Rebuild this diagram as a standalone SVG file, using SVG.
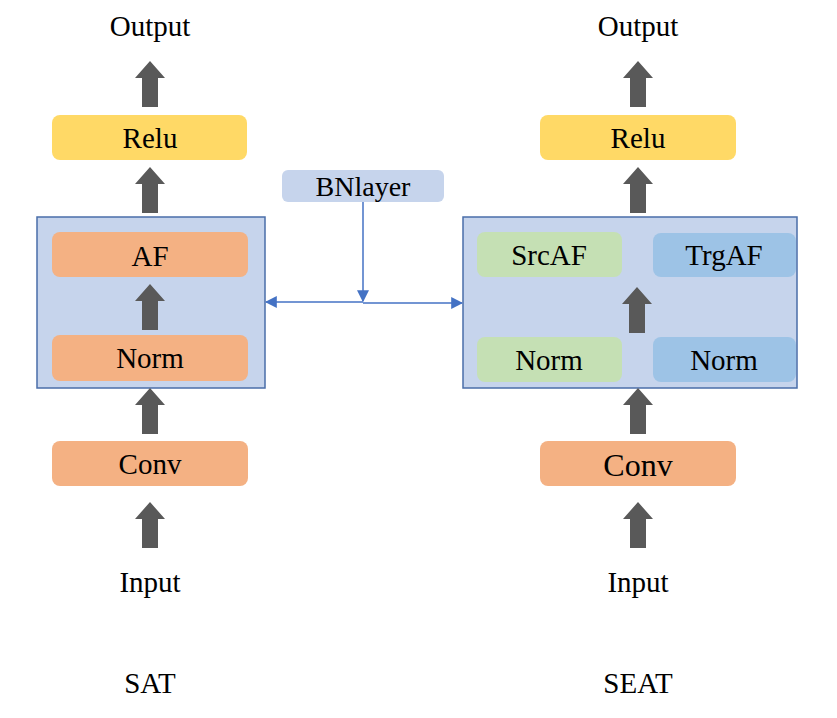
<svg xmlns="http://www.w3.org/2000/svg" width="837" height="718" viewBox="0 0 837 718">
<defs>
<style>
text{font-family:"Liberation Serif","Times New Roman",serif;fill:#000;text-anchor:middle;font-size:29px}
.big{font-size:32px}
.orange{fill:#F4B183}
.yellow{fill:#FFD966}
.green{fill:#C5E0B4}
.blue{fill:#9DC3E6}
.cont{fill:#C6D4EC;stroke:#4A6EA9;stroke-width:1.5}
.bn{fill:#C6D4EC}
.fat{fill:#595959}
.conn{stroke:#4472C4;stroke-width:1.5;fill:none}
</style>
<path id="fa" d="M-8,46 V17 H-15 L0,0 L15,17 H8 V46 Z"/>
<marker id="ah2" viewBox="0 0 10 10" refX="9" refY="5" markerWidth="12" markerHeight="12" orient="auto" markerUnits="userSpaceOnUse"><path d="M0,0 L10,5 L0,10 Z" fill="#4472C4"/></marker>
</defs>
<rect width="837" height="718" fill="#fff"/>

<g id="sat">
<text x="150" y="36">Output</text>
<g id="sat-relu"><rect class="yellow" x="52" y="115" width="195" height="45" rx="8"/><text x="150" y="148">Relu</text></g>
<g id="sat-block"><rect class="cont" x="37" y="217" width="228" height="171"/></g>
<g id="sat-af"><rect class="orange" x="52" y="232" width="196" height="45" rx="8"/><text x="150" y="266">AF</text></g>
<g id="sat-norm"><rect class="orange" x="52" y="335" width="196" height="46" rx="8"/><text x="150" y="368">Norm</text></g>
<g id="sat-conv"><rect class="orange" x="52" y="441" width="196" height="45" rx="8"/><text x="150" y="474">Conv</text></g>
<text x="150" y="592">Input</text>
<text x="150" y="693">SAT</text>
</g>

<g id="seat">
<text x="638" y="36">Output</text>
<g id="seat-relu"><rect class="yellow" x="540" y="115" width="196" height="45" rx="8"/><text x="638" y="148">Relu</text></g>
<g id="seat-block"><rect class="cont" x="463" y="217" width="334" height="171"/></g>
<g id="seat-srcaf"><rect class="green" x="477" y="232" width="145" height="45" rx="8"/><text x="549" y="265">SrcAF</text></g>
<g id="seat-trgaf"><rect class="blue" x="653" y="233" width="143" height="44" rx="8"/><text x="724" y="265">TrgAF</text></g>
<g id="seat-norm1"><rect class="green" x="477" y="337" width="145" height="45" rx="8"/><text x="549" y="370">Norm</text></g>
<g id="seat-norm2"><rect class="blue" x="653" y="337" width="143" height="45" rx="8"/><text x="724" y="370">Norm</text></g>
<g id="seat-conv"><rect class="orange" x="540" y="441" width="196" height="45" rx="8"/><text class="big" x="638" y="476">Conv</text></g>
<text x="638" y="592">Input</text>
<text x="638" y="693">SEAT</text>
</g>

<g id="bnlayer"><rect class="bn" x="282" y="170" width="162" height="32" rx="6"/><text style="font-size:28px" x="363" y="196">BNlayer</text></g>

<g id="connectors">
<g class="fat">
<use href="#fa" x="150" y="61"/>
<use href="#fa" x="150" y="167"/>
<use href="#fa" x="150" y="284"/>
<use href="#fa" x="150" y="388"/>
<use href="#fa" x="150" y="502"/>
<use href="#fa" x="638" y="61"/>
<use href="#fa" x="638" y="167"/>
<use href="#fa" x="637" y="287"/>
<use href="#fa" x="638" y="388"/>
<use href="#fa" x="638" y="502"/>
</g>
<line class="conn" x1="363" y1="202" x2="363" y2="301" marker-end="url(#ah2)"/>
<line class="conn" x1="363" y1="302" x2="266" y2="302" marker-end="url(#ah2)"/>
<line class="conn" x1="363" y1="303" x2="462" y2="303" marker-end="url(#ah2)"/>
</g>
</svg>
